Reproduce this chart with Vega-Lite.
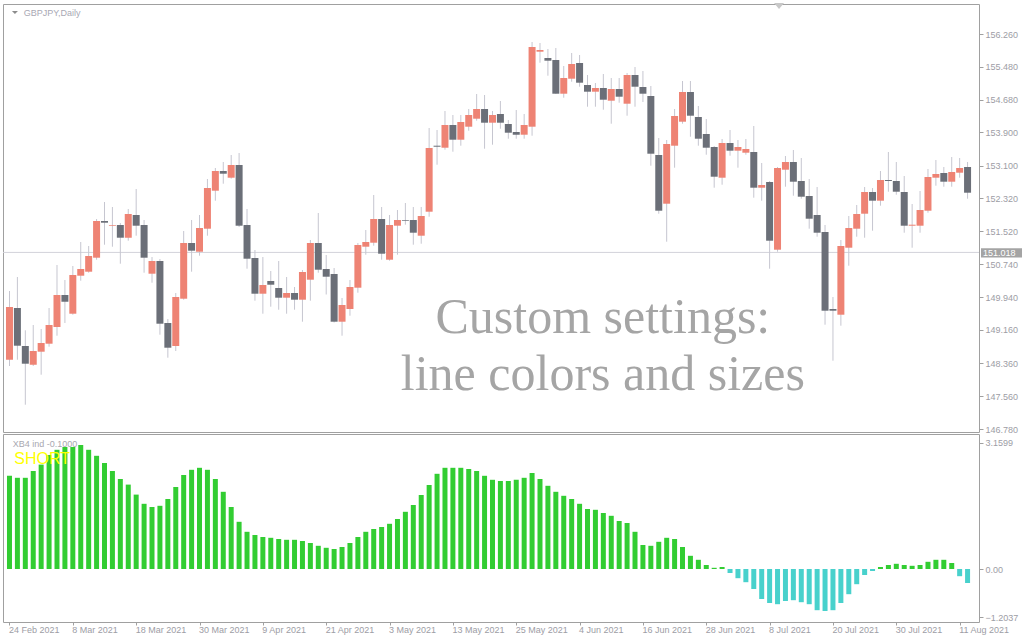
{
"$schema": "https://vega.github.io/schema/vega-lite/v6.json",
"background": "white",
"padding": {"left": 2, "top": 2, "right": 0, "bottom": 0},
"spacing": 2,
"bounds": "flush",
"config": {"view": {"stroke": "#a0a0a0", "strokeWidth": 1}, "font": "Liberation Sans", "axis": {"labelOverlap": false, "labelFlush": false, "labelBound": false, "grid": false, "domain": false, "title": null, "tickColor": "#a0a0a0", "labelColor": "#9d9da5", "labelFont": "Liberation Sans", "labelFontSize": 9}},
"datasets": {"bars": [
{"i":0,"date":"2021-02-24","o":148.443,"h":150.092,"l":148.292,"c":149.708,"xb":2.33},
{"i":1,"date":"2021-02-25","o":149.684,"h":150.428,"l":148.443,"c":148.779,"xb":2.28},
{"i":2,"date":"2021-02-26","o":148.772,"h":149.149,"l":147.363,"c":148.347,"xb":2.28},
{"i":3,"date":"2021-03-01","o":148.323,"h":149.276,"l":148.292,"c":148.652,"xb":2.45},
{"i":4,"date":"2021-03-02","o":148.635,"h":149.18,"l":148.083,"c":148.844,"xb":2.61},
{"i":5,"date":"2021-03-03","o":148.827,"h":149.684,"l":148.755,"c":149.276,"xb":2.85},
{"i":6,"date":"2021-03-04","o":149.228,"h":150.716,"l":149.019,"c":149.996,"xb":2.98},
{"i":7,"date":"2021-03-05","o":149.996,"h":150.356,"l":149.324,"c":149.835,"xb":3.05},
{"i":8,"date":"2021-03-08","o":149.547,"h":150.692,"l":149.523,"c":150.476,"xb":3.05},
{"i":9,"date":"2021-03-09","o":150.459,"h":151.268,"l":150.339,"c":150.62,"xb":3.10},
{"i":10,"date":"2021-03-10","o":150.555,"h":151.172,"l":150.531,"c":150.932,"xb":2.98},
{"i":11,"date":"2021-03-11","o":150.891,"h":151.82,"l":150.843,"c":151.772,"xb":2.83},
{"i":12,"date":"2021-03-12","o":151.772,"h":152.228,"l":151.203,"c":151.731,"xb":2.65},
{"i":13,"date":"2021-03-15","o":151.659,"h":152.108,"l":151.155,"c":151.676,"xb":2.45},
{"i":14,"date":"2021-03-16","o":151.676,"h":151.724,"l":150.747,"c":151.371,"xb":2.25},
{"i":15,"date":"2021-03-17","o":151.371,"h":152.06,"l":151.299,"c":151.94,"xb":2.11},
{"i":16,"date":"2021-03-18","o":151.916,"h":152.54,"l":151.419,"c":151.659,"xb":1.86},
{"i":17,"date":"2021-03-19","o":151.676,"h":151.796,"l":150.531,"c":150.891,"xb":1.63},
{"i":18,"date":"2021-03-22","o":150.507,"h":150.908,"l":150.291,"c":150.812,"xb":1.55},
{"i":19,"date":"2021-03-23","o":150.812,"h":150.86,"l":149.043,"c":149.307,"xb":1.58},
{"i":20,"date":"2021-03-24","o":149.324,"h":149.42,"l":148.491,"c":148.731,"xb":1.75},
{"i":21,"date":"2021-03-25","o":148.772,"h":150.044,"l":148.652,"c":149.948,"xb":2.05},
{"i":22,"date":"2021-03-26","o":149.907,"h":151.532,"l":149.883,"c":151.244,"xb":2.35},
{"i":23,"date":"2021-03-29","o":151.244,"h":151.796,"l":150.555,"c":151.059,"xb":2.48},
{"i":24,"date":"2021-03-30","o":151.035,"h":151.916,"l":150.939,"c":151.604,"xb":2.53},
{"i":25,"date":"2021-03-31","o":151.587,"h":152.78,"l":151.419,"c":152.564,"xb":2.48},
{"i":26,"date":"2021-04-01","o":152.499,"h":153.044,"l":152.259,"c":152.972,"xb":2.25},
{"i":27,"date":"2021-04-02","o":152.972,"h":153.188,"l":152.667,"c":152.907,"xb":1.93},
{"i":28,"date":"2021-04-05","o":152.811,"h":153.356,"l":152.787,"c":153.116,"xb":1.55},
{"i":29,"date":"2021-04-06","o":153.116,"h":153.404,"l":151.628,"c":151.659,"xb":1.18},
{"i":30,"date":"2021-04-07","o":151.676,"h":152.06,"l":150.627,"c":150.867,"xb":0.93},
{"i":31,"date":"2021-04-08","o":150.884,"h":151.076,"l":149.859,"c":150.027,"xb":0.85},
{"i":32,"date":"2021-04-09","o":150.027,"h":150.908,"l":149.547,"c":150.236,"xb":0.80},
{"i":33,"date":"2021-04-12","o":150.332,"h":150.572,"l":149.715,"c":150.243,"xb":0.78},
{"i":34,"date":"2021-04-13","o":150.164,"h":150.812,"l":149.643,"c":149.931,"xb":0.75},
{"i":35,"date":"2021-04-14","o":149.931,"h":150.428,"l":149.547,"c":150.044,"xb":0.73},
{"i":36,"date":"2021-04-15","o":150.044,"h":150.188,"l":149.643,"c":149.883,"xb":0.73},
{"i":37,"date":"2021-04-16","o":149.883,"h":150.596,"l":149.355,"c":150.548,"xb":0.70},
{"i":38,"date":"2021-04-19","o":150.363,"h":151.316,"l":149.859,"c":151.244,"xb":0.65},
{"i":39,"date":"2021-04-20","o":151.244,"h":151.964,"l":150.531,"c":150.603,"xb":0.58},
{"i":40,"date":"2021-04-21","o":150.62,"h":150.956,"l":150.008,"c":150.435,"xb":0.53},
{"i":41,"date":"2021-04-22","o":150.5,"h":150.644,"l":149.336,"c":149.355,"xb":0.50},
{"i":42,"date":"2021-04-23","o":149.355,"h":149.924,"l":149.019,"c":149.756,"xb":0.55},
{"i":43,"date":"2021-04-26","o":149.66,"h":150.356,"l":149.499,"c":150.188,"xb":0.65},
{"i":44,"date":"2021-04-27","o":150.171,"h":151.244,"l":150.051,"c":151.196,"xb":0.80},
{"i":45,"date":"2021-04-28","o":151.155,"h":151.556,"l":150.963,"c":151.268,"xb":0.93},
{"i":46,"date":"2021-04-29","o":151.251,"h":152.396,"l":151.179,"c":151.82,"xb":1.00},
{"i":47,"date":"2021-04-30","o":151.82,"h":152.108,"l":150.843,"c":150.987,"xb":1.05},
{"i":48,"date":"2021-05-03","o":150.843,"h":151.916,"l":150.819,"c":151.676,"xb":1.13},
{"i":49,"date":"2021-05-04","o":151.659,"h":152.036,"l":150.963,"c":151.796,"xb":1.25},
{"i":50,"date":"2021-05-05","o":151.796,"h":152.204,"l":151.683,"c":151.779,"xb":1.43},
{"i":51,"date":"2021-05-06","o":151.796,"h":152.108,"l":151.203,"c":151.491,"xb":1.60},
{"i":52,"date":"2021-05-07","o":151.419,"h":152.108,"l":151.227,"c":151.892,"xb":1.85},
{"i":53,"date":"2021-05-10","o":151.995,"h":154.004,"l":151.875,"c":153.524,"xb":2.10},
{"i":54,"date":"2021-05-11","o":153.579,"h":153.956,"l":153.123,"c":153.555,"xb":2.38},
{"i":55,"date":"2021-05-12","o":153.531,"h":154.412,"l":153.483,"c":154.076,"xb":2.53},
{"i":56,"date":"2021-05-13","o":154.076,"h":154.316,"l":153.435,"c":153.723,"xb":2.53},
{"i":57,"date":"2021-05-14","o":153.723,"h":154.316,"l":153.579,"c":154.148,"xb":2.53},
{"i":58,"date":"2021-05-17","o":154.035,"h":154.46,"l":153.939,"c":154.316,"xb":2.50},
{"i":59,"date":"2021-05-18","o":154.227,"h":154.82,"l":154.179,"c":154.46,"xb":2.45},
{"i":60,"date":"2021-05-19","o":154.46,"h":154.796,"l":153.507,"c":154.131,"xb":2.33},
{"i":61,"date":"2021-05-20","o":154.131,"h":154.412,"l":153.603,"c":154.316,"xb":2.23},
{"i":62,"date":"2021-05-21","o":154.34,"h":154.652,"l":153.987,"c":154.131,"xb":2.20},
{"i":63,"date":"2021-05-24","o":154.1,"h":154.196,"l":153.747,"c":153.891,"xb":2.20},
{"i":64,"date":"2021-05-25","o":153.908,"h":154.436,"l":153.747,"c":153.843,"xb":2.23},
{"i":65,"date":"2021-05-26","o":153.843,"h":154.34,"l":153.747,"c":154.076,"xb":2.28},
{"i":66,"date":"2021-05-27","o":154.035,"h":156.068,"l":153.819,"c":155.948,"xb":2.40},
{"i":67,"date":"2021-05-28","o":155.835,"h":156.044,"l":155.571,"c":155.876,"xb":2.25},
{"i":68,"date":"2021-05-31","o":155.684,"h":155.9,"l":155.259,"c":155.619,"xb":2.08},
{"i":69,"date":"2021-06-01","o":155.636,"h":155.924,"l":154.82,"c":154.827,"xb":1.93},
{"i":70,"date":"2021-06-02","o":154.827,"h":155.492,"l":154.731,"c":155.204,"xb":1.83},
{"i":71,"date":"2021-06-03","o":155.187,"h":155.804,"l":155.115,"c":155.54,"xb":1.75},
{"i":72,"date":"2021-06-04","o":155.564,"h":155.756,"l":154.995,"c":155.091,"xb":1.63},
{"i":73,"date":"2021-06-07","o":155.036,"h":155.276,"l":154.515,"c":154.875,"xb":1.50},
{"i":74,"date":"2021-06-08","o":154.875,"h":155.084,"l":154.515,"c":154.964,"xb":1.48},
{"i":75,"date":"2021-06-09","o":154.964,"h":155.3,"l":154.443,"c":154.683,"xb":1.40},
{"i":76,"date":"2021-06-10","o":154.659,"h":155.204,"l":154.107,"c":154.94,"xb":1.33},
{"i":77,"date":"2021-06-11","o":154.94,"h":155.204,"l":154.611,"c":154.755,"xb":1.20},
{"i":78,"date":"2021-06-14","o":154.587,"h":155.324,"l":154.299,"c":155.276,"xb":1.15},
{"i":79,"date":"2021-06-15","o":155.276,"h":155.468,"l":154.515,"c":154.995,"xb":0.93},
{"i":80,"date":"2021-06-16","o":154.988,"h":155.372,"l":154.628,"c":154.827,"xb":0.60},
{"i":81,"date":"2021-06-17","o":154.772,"h":155.012,"l":153.099,"c":153.387,"xb":0.58},
{"i":82,"date":"2021-06-18","o":153.356,"h":153.764,"l":151.947,"c":152.019,"xb":0.68},
{"i":83,"date":"2021-06-21","o":152.187,"h":153.716,"l":151.275,"c":153.62,"xb":0.78},
{"i":84,"date":"2021-06-22","o":153.579,"h":154.46,"l":153.051,"c":154.292,"xb":0.75},
{"i":85,"date":"2021-06-23","o":154.155,"h":155.132,"l":154.107,"c":154.868,"xb":0.55},
{"i":86,"date":"2021-06-24","o":154.868,"h":155.132,"l":153.795,"c":154.299,"xb":0.33},
{"i":87,"date":"2021-06-25","o":154.268,"h":154.532,"l":153.579,"c":153.747,"xb":0.23},
{"i":88,"date":"2021-06-28","o":153.86,"h":154.22,"l":153.363,"c":153.531,"xb":0.10},
{"i":89,"date":"2021-06-29","o":153.548,"h":153.572,"l":152.571,"c":152.835,"xb":0.03},
{"i":90,"date":"2021-06-30","o":152.811,"h":153.74,"l":152.643,"c":153.644,"xb":0.05},
{"i":91,"date":"2021-07-01","o":153.644,"h":153.956,"l":153.339,"c":153.459,"xb":-0.10},
{"i":92,"date":"2021-07-02","o":153.459,"h":153.716,"l":153.051,"c":153.548,"xb":-0.23},
{"i":93,"date":"2021-07-05","o":153.411,"h":153.74,"l":153.363,"c":153.5,"xb":-0.33},
{"i":94,"date":"2021-07-06","o":153.428,"h":154.052,"l":152.331,"c":152.571,"xb":-0.50},
{"i":95,"date":"2021-07-07","o":152.571,"h":153.164,"l":152.259,"c":152.636,"xb":-0.75},
{"i":96,"date":"2021-07-08","o":152.708,"h":152.732,"l":150.627,"c":151.299,"xb":-0.85},
{"i":97,"date":"2021-07-09","o":151.083,"h":153.068,"l":151.035,"c":153.044,"xb":-0.88},
{"i":98,"date":"2021-07-12","o":153.003,"h":153.332,"l":152.595,"c":153.188,"xb":-0.80},
{"i":99,"date":"2021-07-13","o":153.188,"h":153.476,"l":152.379,"c":152.715,"xb":-0.78},
{"i":100,"date":"2021-07-14","o":152.732,"h":153.284,"l":152.307,"c":152.355,"xb":-0.83},
{"i":101,"date":"2021-07-15","o":152.372,"h":152.78,"l":151.587,"c":151.827,"xb":-0.88},
{"i":102,"date":"2021-07-16","o":151.916,"h":152.588,"l":151.395,"c":151.491,"xb":-1.03},
{"i":103,"date":"2021-07-19","o":151.508,"h":151.676,"l":149.283,"c":149.619,"xb":-1.05},
{"i":104,"date":"2021-07-20","o":149.66,"h":149.948,"l":148.419,"c":149.619,"xb":-1.03},
{"i":105,"date":"2021-07-21","o":149.523,"h":151.316,"l":149.259,"c":151.172,"xb":-0.85},
{"i":106,"date":"2021-07-22","o":151.131,"h":151.892,"l":150.699,"c":151.604,"xb":-0.63},
{"i":107,"date":"2021-07-23","o":151.587,"h":152.156,"l":151.395,"c":151.94,"xb":-0.38},
{"i":108,"date":"2021-07-26","o":151.947,"h":152.588,"l":151.371,"c":152.468,"xb":-0.15},
{"i":109,"date":"2021-07-27","o":152.468,"h":152.564,"l":151.539,"c":152.259,"xb":-0.05},
{"i":110,"date":"2021-07-28","o":152.259,"h":152.972,"l":152.139,"c":152.756,"xb":0.05},
{"i":111,"date":"2021-07-29","o":152.756,"h":153.428,"l":152.475,"c":152.732,"xb":0.10},
{"i":112,"date":"2021-07-30","o":152.732,"h":153.188,"l":152.403,"c":152.475,"xb":0.13},
{"i":113,"date":"2021-08-02","o":152.468,"h":152.852,"l":151.491,"c":151.659,"xb":0.10},
{"i":114,"date":"2021-08-03","o":151.659,"h":152.18,"l":151.131,"c":151.683,"xb":0.08},
{"i":115,"date":"2021-08-04","o":151.659,"h":152.492,"l":151.491,"c":152.036,"xb":0.10},
{"i":116,"date":"2021-08-05","o":152.019,"h":153.02,"l":151.971,"c":152.828,"xb":0.18},
{"i":117,"date":"2021-08-06","o":152.811,"h":153.236,"l":152.619,"c":152.9,"xb":0.23},
{"i":118,"date":"2021-08-09","o":152.924,"h":153.068,"l":152.595,"c":152.715,"xb":0.23},
{"i":119,"date":"2021-08-10","o":152.715,"h":153.308,"l":152.595,"c":152.948,"xb":0.15},
{"i":120,"date":"2021-08-11","o":152.931,"h":153.284,"l":152.811,"c":153.044,"xb":-0.18},
{"i":121,"date":"2021-08-12","o":153.068,"h":153.188,"l":152.307,"c":152.451,"xb":-0.35}
]},
"vconcat": [
{
 "width": 976, "height": 428,
 "layer": [
  {"data": {"values": [{}]},
   "mark": {"type": "rule", "color": "#d2d2da", "strokeWidth": 1},
   "encoding": {"y": {"datum": 151.018, "type": "quantitative", "scale": {"domain": [146.708, 156.98], "nice": false, "zero": false},
          "axis": {"orient": "right", "values": [156.26,155.48,154.68,153.9,153.1,152.32,151.52,150.74,149.94,149.16,148.36,147.56,146.78], "tickCount": 30, "format": ".3f", "labelOverlap": false, "tickSize": 4, "labelPadding": 2}}}},
  {"data": {"name": "bars"},
   "mark": {"type": "rule", "color": "#c6c6d0", "strokeWidth": 1, "clip": true},
   "encoding": {
    "x": {"field": "i", "type": "quantitative", "scale": {"domain": [-0.1875, 121.8125], "nice": false, "zero": false}, "axis": null},
    "y": {"field": "l", "type": "quantitative",
          "axis": {"orient": "right", "values": [156.26,155.48,154.68,153.9,153.1,152.32,151.52,150.74,149.94,149.16,148.36,147.56,146.78], "tickCount": 30, "format": ".3f", "labelOverlap": false, "tickSize": 4, "labelPadding": 2}},
    "y2": {"field": "h"}}},
  {"data": {"name": "bars"},
   "mark": {"type": "bar", "width": 7, "clip": true},
   "encoding": {
    "x": {"field": "i", "type": "quantitative"},
    "y": {"field": "o", "type": "quantitative"},
    "y2": {"field": "c"},
    "color": {"condition": {"test": "datum.c > datum.o", "value": "#ee8374"}, "value": "#6b6f78"}}},
  {"data": {"values": [{}]},
   "mark": {"type": "point", "shape": "M0.2,-0.42H4.3V0.5H0.2Z", "size": 400, "filled": true, "color": "#a4a4a4", "opacity": 1},
   "encoding": {"x": {"value": "width"}, "y": {"datum": 151.018, "type": "quantitative"}}},
  {"data": {"values": [{}]},
   "mark": {"type": "text", "text": "151.018", "color": "#ffffff", "fontSize": 9, "font": "Liberation Sans", "align": "left", "baseline": "middle", "dx": 4, "dy": 0.5},
   "encoding": {"x": {"value": "width"}, "y": {"datum": 151.018, "type": "quantitative"}}},
  {"data": {"values": [{}]},
   "mark": {"type": "point", "shape": "M-1,-0.5L1,-0.5L0,0.5Z", "size": 36, "filled": true, "color": "#8c8c8c", "opacity": 1},
   "encoding": {"x": {"datum": 0.6875, "type": "quantitative"}, "y": {"datum": 156.776, "type": "quantitative"}}},
  {"data": {"values": [{}]},
   "mark": {"type": "text", "text": "GBPJPY,Daily", "color": "#a8a8b4", "fontSize": 9, "font": "Liberation Sans", "align": "left", "baseline": "middle"},
   "encoding": {"x": {"datum": 1.8, "type": "quantitative"}, "y": {"datum": 156.776, "type": "quantitative"}}},
  {"data": {"values": [{}]},
   "mark": {"type": "point", "shape": "M-1,-0.6L1,-0.6L0,0.6Z", "size": 100, "filled": true, "color": "#c8c8c8", "opacity": 1},
   "encoding": {"x": {"datum": 97.19, "type": "quantitative"}, "y": {"datum": 156.932, "type": "quantitative"}}},
  {"data": {"values": [{}]},
   "mark": {"type": "text", "text": "Custom settings:", "color": "#a5a5a5", "fontSize": 50, "font": "Liberation Serif", "align": "center", "baseline": "alphabetic"},
   "encoding": {"x": {"datum": 74.94, "type": "quantitative"}, "y": {"datum": 149.084, "type": "quantitative"}}},
  {"data": {"values": [{}]},
   "mark": {"type": "text", "text": "line colors and sizes", "color": "#a5a5a5", "fontSize": 50, "font": "Liberation Serif", "align": "center", "baseline": "alphabetic"},
   "encoding": {"x": {"datum": 74.94, "type": "quantitative"}, "y": {"datum": 147.716, "type": "quantitative"}}}
 ]
},
{
 "width": 976, "height": 188,
 "layer": [
  {"data": {"name": "bars"},
   "mark": {"type": "bar", "width": 5, "clip": true},
   "encoding": {
    "x": {"field": "i", "type": "quantitative", "scale": {"domain": [-0.1875, 121.8125], "nice": false, "zero": false},
          "axis": {"values": [0,8,16,24,32,40,48,56,64,72,80,88,96,104,112,120], "tickCount": 40,
                   "labelExpr": "['24 Feb 2021','8 Mar 2021','18 Mar 2021','30 Mar 2021','9 Apr 2021','21 Apr 2021','3 May 2021','13 May 2021','25 May 2021','4 Jun 2021','16 Jun 2021','28 Jun 2021','8 Jul 2021','20 Jul 2021','30 Jul 2021','11 Aug 2021'][round(datum.value/8)]",
                   "labelAlign": "left", "labelOffset": -1, "tickSize": 3, "labelPadding": 0}},
    "y": {"field": "xb", "type": "quantitative", "scale": {"domain": [-1.325, 3.375], "nice": false, "zero": false},
          "axis": {"orient": "right", "values": [3.1599, 0, -1.2037], "tickCount": 10, "labelExpr": "datum.value == 0 ? '0.00' : format(datum.value, '.4f')", "tickSize": 4, "labelPadding": 2}},
    "y2": {"datum": 0},
    "color": {"condition": {"test": "datum.xb >= 0", "value": "#32cd32"}, "value": "#48d1cc"}}},
  {"data": {"values": [{}]},
   "mark": {"type": "text", "text": "XB4 ind -0.1000", "color": "#a8a8b0", "fontSize": 9, "font": "Liberation Sans", "align": "left", "baseline": "middle"},
   "encoding": {"x": {"datum": 0.4, "type": "quantitative"}, "y": {"datum": 3.125, "type": "quantitative"}}},
  {"data": {"values": [{}]},
   "mark": {"type": "text", "text": "SHORT", "color": "#ffff00", "fontSize": 16, "font": "Liberation Sans", "align": "left", "baseline": "middle"},
   "encoding": {"x": {"datum": 0.6, "type": "quantitative"}, "y": {"datum": 2.75, "type": "quantitative"}}}
 ]
}
]
}
